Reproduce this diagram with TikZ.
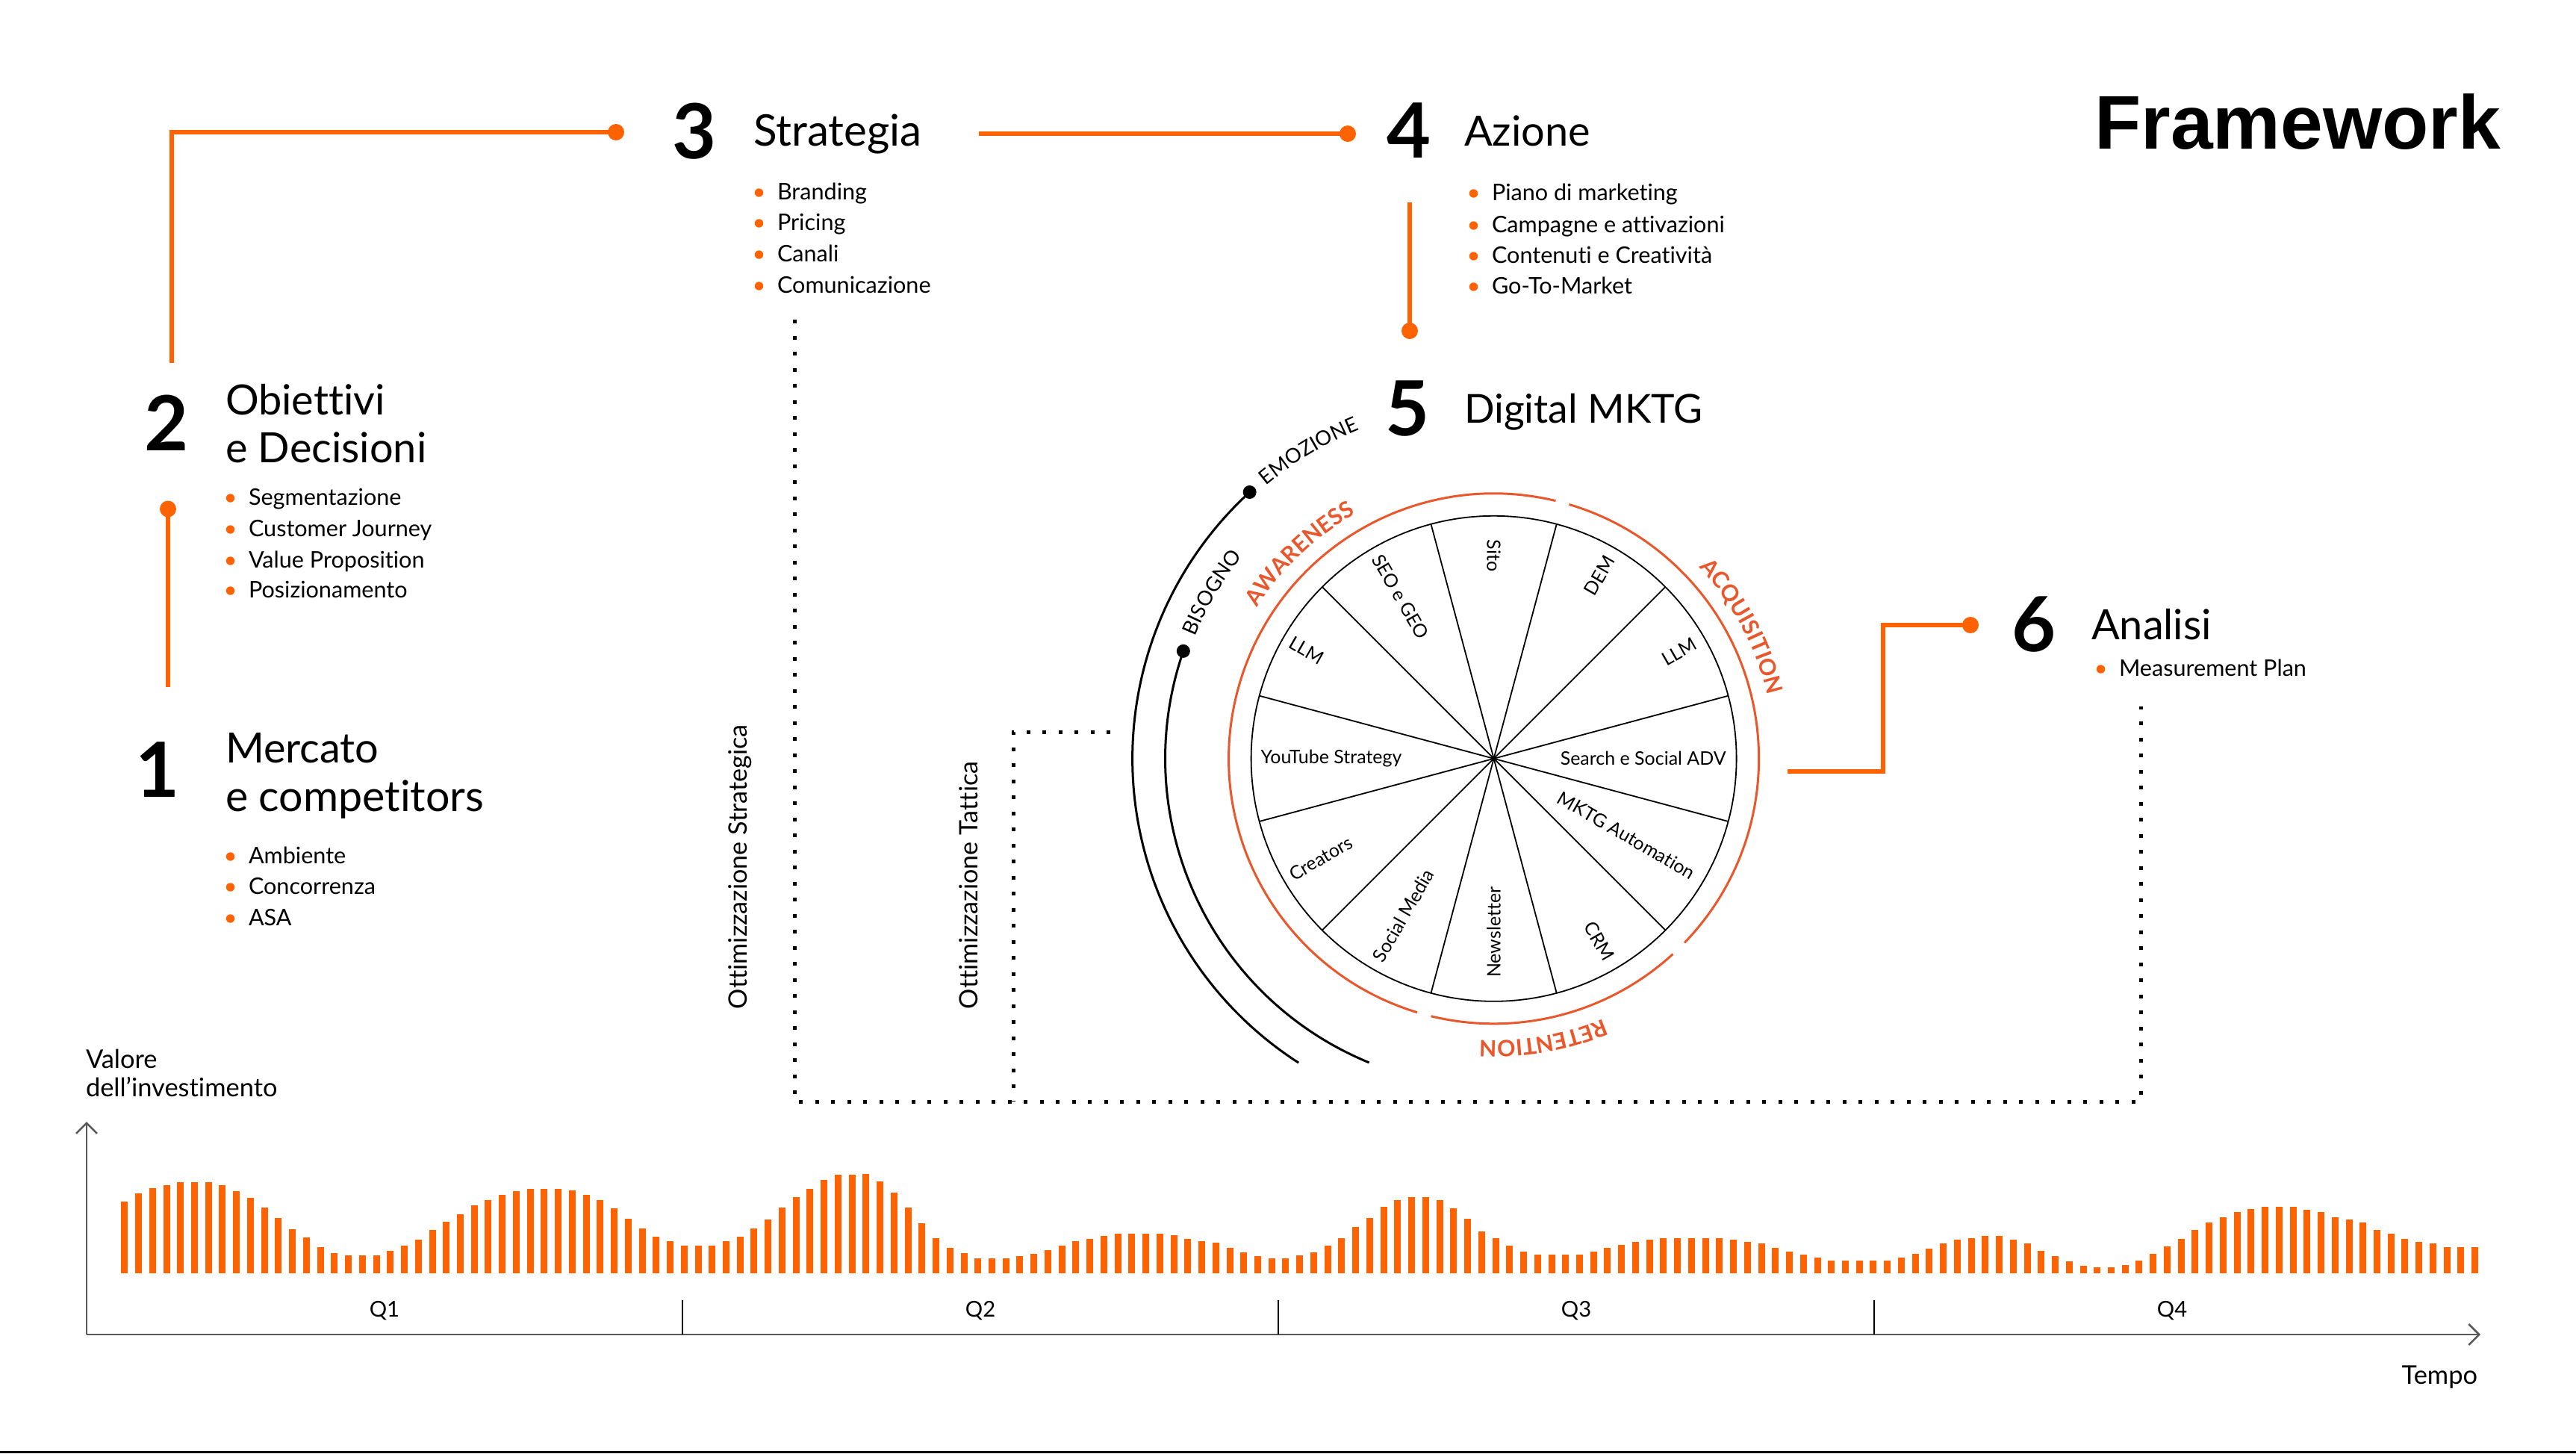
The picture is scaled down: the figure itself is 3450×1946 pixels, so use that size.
\documentclass[tikz,border=0pt]{standalone}
\usepackage{fontspec}
\setmainfont{Lato}[Ligatures={NoCommon}]
\newfontfamily\fwfont{Liberation Sans}
\usetikzlibrary{arrows.meta,decorations.text}
\definecolor{orA}{RGB}{255,98,0}
\definecolor{orB}{RGB}{233,88,45}
\newcommand\orfont{\fontsize{8.6}{9}\selectfont\bfseries\color{orB}}
\newcommand\bkfont{\fontsize{7.8}{8}\selectfont}
\newcommand\bitem[3]{%
  \node[item] (#1) at (#2) {#3};
  \fill[orA] ([xshift=-2.45mm,yshift=0.9mm]#1.base west) circle[radius=0.57mm];}
\def\barheights{96.5,106.6,114,118,122,122,122,118,110,101,
88,74,59,48,35.5,27,24,24,24,30,
37,45,58,69,79.5,91,98,105.5,110,113.5,
113.5,113.5,111,105.5,98,87,73.4,60,49.5,43,
37.3,37.3,37.3,43.4,49.5,60,72.3,88,102,113,
125,132,132,133,123,108,88,67,47,34,
27,20,20,20,23,26,31,37,43,46,
50,53,53,53,53,51,46,43,41,34,
28,23,20,20,24,28,37,47,62,74,
89,98,102,102,98,87,73,56,47,37,
29,25,25,25,25,29,34,38,42,45,
47,47,47,47,47,45,42,40,34,29,
25,21,17,17,17,17,17,21,26,33,
40,45,47,50,50,45,40,30,23,16,
10,8,8,11,17,26,36,46,58,68,
75,82,86,89,89,89,85,82,75,72,
68,58,53,46,42,40,35,35,35}
\begin{document}
\begin{tikzpicture}[x=0.1mm,y=-0.1mm,
  every node/.style={inner sep=0pt,outer sep=0pt},
  num/.style={font=\fontsize{29}{29}\selectfont\bfseries,anchor=base},
  head/.style={font=\fontsize{15.9}{16}\selectfont,anchor=base west},
  item/.style={font=\fontsize{8.7}{9}\selectfont,anchor=base west},
  small/.style={font=\fontsize{8.3}{9}\selectfont},
  axlab/.style={font=\fontsize{9.8}{10}\selectfont},
  conn/.style={draw=orA,line width=0.6mm},
  dotline/.style={draw=black,line width=0.5mm,dash pattern=on 0.5mm off 1.65mm},
  barst/.style={draw=orA,line width=0.9mm},
  wlab/.style={font=\fontsize{7.1}{7.5}\selectfont},
  optlab/.style={font=\fontsize{9.7}{10}\selectfont,anchor=base west,rotate=90},
  axis/.style={draw=black!65,line width=0.25mm},
  tick/.style={draw=black,line width=0.18mm},
]
\useasboundingbox (0,0) rectangle (3450,1946);
\fill[white] (0,0) rectangle (3450,1946);
\fill[black] (0,1943) rectangle (3450,1946);

% title
\node[font=\fwfont\fontsize{29}{29}\selectfont\bfseries,anchor=base east] (title) at (3349,199) {Framework};

% block 1
\node[num] (n1) at (211,1067) {1};
\node[head] (h1a) at (302,1021) {Mercato};
\node[head,font=\fontsize{16.3}{16}\selectfont] (h1b) at (302,1086) {e competitors};
\bitem{b1a}{333,1156}{Ambiente}
\bitem{b1b}{333,1197}{Concorrenza}
\bitem{b1c}{333,1239}{ASA}

% block 2
\node[num] (n2) at (223.5,603) {2};
\node[head] (h2a) at (302,555.5) {Obiettivi};
\node[head] (h2b) at (302,619) {e Decisioni};
\bitem{b2a}{333,676}{Segmentazione}
\bitem{b2b}{333,718}{Customer Journey}
\bitem{b2c}{333,760}{Value Proposition}
\bitem{b2d}{333,800}{Posizionamento}

% block 3
\node[num] (n3) at (930.5,212) {3};
\node[head,font=\fontsize{16.6}{17}\selectfont] (h3) at (1009,195) {Strategia};
\bitem{b3a}{1041,267}{Branding}
\bitem{b3b}{1041,308}{Pricing}
\bitem{b3c}{1041,350}{Canali}
\bitem{b3d}{1041,392}{Comunicazione}

% block 4
\node[num] (n4) at (1887,211) {4};
\node[head] (h4) at (1961,195) {Azione};
\bitem{b4a}{1998,268}{Piano di marketing}
\bitem{b4b}{1998,311}{Campagne e attivazioni}
\bitem{b4c}{1998,352}{Contenuti e Creatività}
\bitem{b4d}{1998,393}{Go-To-Market}

% block 5
\node[num] (n5) at (1885,583) {5};
\node[head,font=\fontsize{15.2}{16}\selectfont] (h5) at (1961,566) {Digital MKTG};

% block 6
\node[num] (n6) at (2724.5,872) {6};
\node[head] (h6) at (2801,856) {Analisi};
\bitem{b6a}{2838,905}{Measurement Plan}

% orange connectors
\coordinate (c12a) at (225,920);   \coordinate (c12b) at (225,681.5);
\coordinate (c23a) at (230,486);   \coordinate (c23k) at (230,177); \coordinate (c23b) at (825,177);
\coordinate (c34a) at (1311,179);  \coordinate (c34b) at (1805,179);
\coordinate (c45a) at (1888,271);  \coordinate (c45b) at (1888,443);
\coordinate (c56a) at (2394,1033); \coordinate (c56k) at (2522,1033);
\coordinate (c56l) at (2522,837);  \coordinate (c56b) at (2639,837);
\draw[conn] (c12a) -- (c12b);
\draw[conn] (c23a) -- (c23k) -- (c23b);
\draw[conn] (c34a) -- (c34b);
\draw[conn] (c45a) -- (c45b);
\draw[conn] (c56a) -- (c56k) -- (c56l) -- (c56b);
\foreach \c in {c12b,c23b,c34b,c45b,c56b} \fill[orA] (\c) circle[radius=1.1mm];

% dotted optimisation loops
\coordinate (os1) at (1064,428); \coordinate (os2) at (1064,1475);
\coordinate (os3) at (2867,1475); \coordinate (os4) at (2867,946);
\coordinate (ot1) at (1487,980); \coordinate (ot2) at (1357,980); \coordinate (ot3) at (1357,1475);
\draw[dotline] (os1) -- (os2) -- (os3) -- (os4);
\draw[dotline] (ot1) -- (ot2) -- (ot3);
\node[optlab] (ostr) at (1000,1351) {Ottimizzazione Strategica};
\node[optlab] (otat) at (1309,1351) {Ottimizzazione Tattica};

% wheel
\begin{scope}[shift={(2000.6,1015.8)},y=0.1mm]
  \coordinate (wc) at (0,0);
  \draw[line width=0.18mm] (wc) circle[radius=325];
  \foreach \a in {15,45,...,345} \draw[line width=0.18mm] (wc) -- (\a:325);
  \draw[orB,line width=0.3mm] (76.5:355) arc[start angle=76.5,end angle=253.2,radius=355];
  \draw[orB,line width=0.3mm] (256.3:355) arc[start angle=256.3,end angle=312.5,radius=355];
  \draw[orB,line width=0.3mm] (-44:355) arc[start angle=-44,end angle=73.5,radius=355];
  \node[wlab,anchor=east] (w0) at (0:311) {Search e Social ADV};
  \node[wlab,rotate=30,anchor=east] (w30) at (30:311) {LLM};
  \node[wlab,rotate=60,anchor=east] (w60) at (60:311) {DEM};
  \node[wlab,rotate=-90,anchor=west] (w90) at (90:293) {Sito};
  \node[wlab,rotate=-60,anchor=west] (w120) at (120:313) {SEO e GEO};
  \node[wlab,rotate=-30,anchor=west] (w150) at (150:314) {LLM};
  \node[wlab,anchor=west] (w180) at (180:312) {YouTube Strategy};
  \node[wlab,rotate=30,anchor=west] (w210) at (210:314) {Creators};
  \node[wlab,rotate=60,anchor=west] (w240) at (240:312) {Social Media};
  \node[wlab,rotate=90,anchor=west] (w270) at (270:293) {Newsletter};
  \node[wlab,rotate=-60,anchor=east] (w300) at (300:310) {CRM};
  \node[wlab,rotate=-30,anchor=east] (w330) at (330:309) {MKTG Automation};
  % phase labels
  \path[decorate,decoration={text along path,text align=center,text={|\orfont|AWARENESS}}]
    (163.5:376) arc[start angle=163.5,end angle=103.5,radius=376];
  \path[decorate,decoration={text along path,text align=center,text={|\orfont|ACQUISITION}}]
    (58:376) arc[start angle=58,end angle=-2,radius=376];
  \path[decorate,decoration={text along path,text align=center,text={|\orfont|RETENTION}}]
    (310:378) arc[start angle=310,end angle=250,radius=378];
  % need / emotion arcs
  \coordinate (bis) at (160.9:440);
  \coordinate (emo) at (132.5:484);
  \draw[line width=0.3mm] (bis) arc[start angle=160.9,end angle=247.7,radius=440];
  \draw[line width=0.3mm] (emo) arc[start angle=132.5,end angle=237.3,radius=484];
  \fill (bis) circle[radius=9];
  \fill (emo) circle[radius=9];
  \path[decorate,decoration={text along path,text align=center,text={|\bkfont|BISOGNO}}]
    (175:432) arc[start angle=175,end angle=124,radius=432];
  \path[decorate,decoration={text along path,text align=center,text={|\bkfont|EMOZIONE}}]
    (146:476) arc[start angle=146,end angle=96,radius=476];
\end{scope}

% chart
\foreach \h [count=\i from 0] in \barheights
  \draw[barst] ({166.8+18.737*\i},1705) -- ++(0,-\h);
\coordinate (yo) at (116,1787);
\coordinate (ytop) at (116,1502);
\coordinate (xend) at (3322,1787);
\draw[axis,-{Straight Barb[length=1.4mm,width=2.8mm]}] (yo) -- (ytop);
\draw[axis,-{Straight Barb[length=1.4mm,width=2.8mm]}] (yo) -- (xend);
\foreach \x in {914,1712,2510} \draw[tick] (\x,1741) -- (\x,1787);
\node[small,anchor=base] (q1) at (515,1763) {Q1};
\node[small,anchor=base] (q2) at (1313,1763) {Q2};
\node[small,anchor=base] (q3) at (2111,1763) {Q3};
\node[small,anchor=base] (q4) at (2909,1763) {Q4};
\node[axlab,anchor=base west] (val1) at (115,1430.5) {Valore};
\node[axlab,anchor=base west] (val2) at (115,1468.5) {dell’investimento};
\node[axlab,anchor=base east] (tempo) at (3318,1853) {Tempo};
\end{tikzpicture}
\end{document}
